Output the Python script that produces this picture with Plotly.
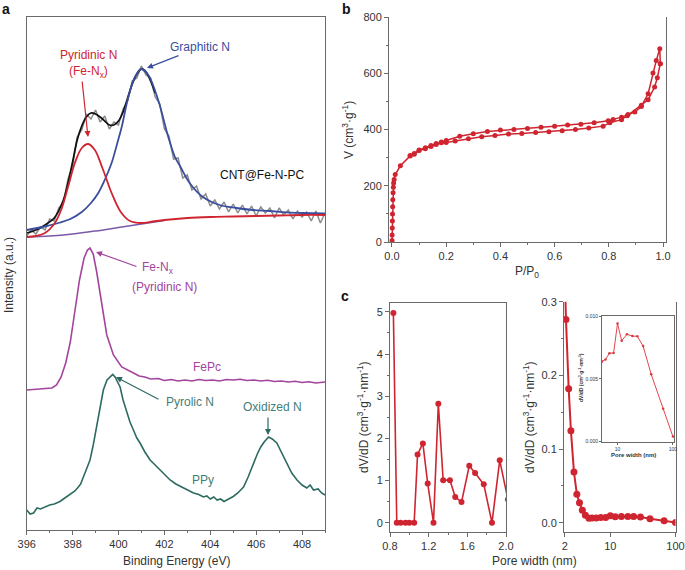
import plotly.graph_objects as go

W, H = 685, 570
def PX(x): return x / W
def PY(y): return 1 - y / H

FONT = "Liberation Sans, Arial, sans-serif"
RED = "#cf2530"
BLUE = "#3a4e9e"
PURP = "#7a5aa8"
MAG = "#a3449d"
TEAL = "#2d6b61"
TEAL_T = "#3f8077"

# ---------------- Panel a : XPS N1s ----------------
cnt_raw_E = [396.0, 396.2, 396.4, 396.6, 396.8, 397.0, 397.2, 397.4, 397.6, 397.8,
             398.0, 398.2, 398.4, 398.6, 398.8, 399.0, 399.2, 399.4, 399.6, 399.8,
             400.0, 400.2, 400.4, 400.6, 400.8, 401.0, 401.2, 401.4, 401.6, 401.8,
             402.0, 402.2, 402.4, 402.6, 402.8, 403.0, 403.2, 403.4, 403.6, 403.8,
             404.0, 404.2, 404.4, 404.6, 404.8, 405.0, 405.2, 405.4, 405.6, 405.8,
             406.0, 406.2, 406.4, 406.6, 406.8, 407.0, 407.2, 407.4, 407.6, 407.8,
             408.0, 408.2, 408.4, 408.6, 408.8, 409.0]
cnt_raw_I = [294, 300, 296, 303, 300, 311, 309, 322, 327, 351,
             364, 393, 400, 416, 411, 420, 408, 414, 401, 408,
             405, 421, 429, 449, 452, 464, 455, 452, 433, 426,
             401, 394, 371, 372, 352, 355, 340, 344, 331, 336,
             324, 330, 321, 328, 318, 326, 317, 325, 316, 324,
             314, 323, 317, 322, 312, 322, 315, 320, 311, 319,
             313, 318, 309, 319, 307, 317]

env_E = [396.0, 396.4, 396.8, 397.2, 397.6, 397.8, 398.0, 398.2, 398.4, 398.6,
         398.8, 399.0, 399.2, 399.4, 399.6, 399.8, 400.0, 400.2, 400.4, 400.6,
         400.8, 401.0, 401.2, 401.4, 401.6]
env_I = [297, 300, 305, 312, 330, 347, 368, 390, 404, 413,
         417, 416, 413, 409, 405, 405, 409, 418, 432, 446,
         456, 461, 458, 449, 437]

red_E = [396.0, 396.4, 396.8, 397.2, 397.5, 397.8, 398.1, 398.4, 398.68, 398.97,
         399.3, 399.7, 400.1, 400.5, 401.0, 401.5, 402.0, 403.0, 404.0, 405.0,
         406.0, 407.0, 408.0, 409.0]
red_I = [293, 294, 297, 306, 320, 343, 367, 382, 386, 380,
         362, 337, 318, 309, 307, 308.5, 310, 312, 313, 313.5,
         314, 314.5, 315, 315]

blue_E = [396.0, 396.7, 397.38, 397.9, 398.4, 398.8, 399.12, 399.4, 399.7, 399.95,
          400.14, 400.43, 400.72, 401.0, 401.3, 401.73, 402.17, 402.46, 402.68, 403.1,
          403.68, 404.41, 405.13, 405.86, 406.59, 407.31, 408.04, 409.0]
blue_I = [300, 303, 307, 311, 318, 327, 337, 350, 367, 387,
          403, 433, 453, 461, 455, 430, 393, 373, 364, 347,
          333, 325, 322, 320, 319, 317.7, 317, 316.5]

base_E = [396.0, 397.0, 398.0, 399.0, 400.0, 401.0, 402.0]
base_I = [293, 294, 296, 299, 302.5, 306, 309.5]

fepc_E = [396.0, 396.3, 396.6, 396.9, 397.1, 397.3, 397.5, 397.7, 397.9, 398.1,
          398.3, 398.5, 398.65, 398.76, 398.9, 399.05, 399.27, 399.49, 399.78, 400.14,
          400.57, 400.9, 401.15, 401.4, 401.73, 402.0, 402.3, 402.6, 402.9, 403.2,
          403.5, 403.8, 404.1, 404.4, 404.7, 405.0, 405.3, 405.6, 405.9, 406.2,
          406.5, 406.8, 407.1, 407.4, 407.7, 408.0, 408.3, 408.6, 409.0]
fepc_I = [140, 140.5, 141, 141.5, 142, 145, 153, 167, 188, 219,
          250, 272, 280, 282, 276, 258, 228, 195, 175, 163,
          158, 154, 153, 151, 151.5, 149.5, 150.5, 149, 150, 149,
          150.5, 149.5, 150, 149, 150.5, 150, 150.8, 149.5, 150, 149,
          149.8, 148.5, 149, 148, 148.8, 147.5, 148.2, 147, 148]

ppy_E = [396.0, 396.15, 396.3, 396.45, 396.6, 396.8, 397.0, 397.2, 397.45, 397.6,
         397.8, 397.96, 398.1, 398.25, 398.35, 398.47, 398.6, 398.76, 398.9, 399.05,
         399.2, 399.34, 399.5, 399.63, 399.75, 399.85, 399.95, 400.07, 400.2, 400.36,
         400.5, 400.65, 400.8, 400.94, 401.15, 401.38, 401.6, 401.81, 402.0, 402.25,
         402.5, 402.83, 403.05, 403.27, 403.5, 403.7, 403.85, 404.0, 404.15, 404.3,
         404.45, 404.6, 404.8, 405.0, 405.2, 405.45, 405.65, 405.88, 406.05, 406.2,
         406.35, 406.54, 406.7, 406.9, 407.1, 407.34, 407.55, 407.78, 408.0, 408.21,
         408.35, 408.5, 408.7, 408.85, 409.0]
ppy_I = [20, 16, 17, 22, 21, 23, 25, 26, 28.5, 31,
         34, 37, 39, 43, 46, 53, 60, 70, 85, 103,
         124, 140, 150, 153, 155.5, 153, 149, 143, 130, 117,
         108, 100, 92, 87, 78, 70, 65, 60, 56, 50,
         46, 42, 39, 37, 35.5, 33, 34, 31, 33, 30,
         31, 28.5, 31, 33.5, 37, 43, 53, 67, 76, 83,
         88, 93, 91, 87, 78, 67, 57, 50, 45, 42,
         45, 40, 41, 37, 35]

# ---------------- Panel b : isotherm ----------------
ads_P = [0.0003, 0.0006, 0.001, 0.0015, 0.002, 0.0025, 0.003, 0.004, 0.005, 0.006,
         0.008, 0.012, 0.031, 0.067, 0.082, 0.10, 0.123, 0.144, 0.163, 0.182,
         0.20, 0.233, 0.282, 0.331, 0.38, 0.43, 0.479, 0.53, 0.579, 0.628,
         0.677, 0.726, 0.779, 0.804, 0.847, 0.868, 0.92, 0.945, 0.969, 0.979, 0.99]
ads_V = [5, 25, 50, 75, 100, 125, 150, 175, 195, 210,
         222, 240, 271, 306, 312, 325, 332, 340, 347, 353,
         354, 359, 367, 374, 379, 384, 386, 389, 392, 396,
         400, 405, 412, 424, 435, 449, 486, 506, 551, 584, 634]
des_P = [0.99, 0.988, 0.975, 0.963, 0.945, 0.92, 0.896, 0.871, 0.847, 0.816,
         0.798, 0.746, 0.697, 0.648, 0.60, 0.55, 0.50, 0.45, 0.40, 0.352,
         0.30, 0.25, 0.20, 0.182, 0.163, 0.144, 0.123, 0.10, 0.082, 0.067]
des_V = [634, 687, 645, 601, 527, 482, 462, 453, 444, 436,
         431, 424, 419, 416, 412, 408, 404, 400, 398, 393,
         385, 376, 361, 356, 350, 343, 335, 327, 315, 308]

# ---------------- Panel c : pore size distribution ----------------
micro_w = [0.835, 0.87, 0.91, 0.96, 1.0, 1.05, 1.085, 1.14, 1.19, 1.25,
           1.30, 1.35, 1.42, 1.475, 1.54, 1.62, 1.68, 1.77, 1.855, 1.935, 2.02]
micro_v = [4.97, 0, 0, 0, 0, 0, 1.62, 1.88, 0.93, 0,
           2.82, 1.01, 1.01, 0.61, 0.49, 1.35, 1.18, 0.91, 0, 1.48, 0.55]

meso_w = [2.0, 2.09, 2.30, 2.49, 2.77, 3.07, 3.37, 3.73, 4.15, 4.71,
          5.24, 6.08, 7.14, 8.5, 10, 11.9, 14.8, 18.6, 22.8, 29, 40.6, 66.8, 100]
meso_v = [0.34, 0.276, 0.182, 0.125, 0.069, 0.0385, 0.027, 0.017, 0.010, 0.006,
          0.0064, 0.0065, 0.0070, 0.0071, 0.0094, 0.0080, 0.0085, 0.0084, 0.0084,
          0.0076, 0.0054, 0.0026, 0.0004]

inset_w = [5.24, 6.08, 7.14, 8.5, 10, 11.9, 14.8, 18.6, 22.8, 29, 40.6, 66.8, 100]
inset_v = [0.00638, 0.00654, 0.00703, 0.00705, 0.0094, 0.00803, 0.00854, 0.0084,
           0.00838, 0.0076, 0.00535, 0.0026, 0.0004]

fig = go.Figure()

# panel a traces
fig.add_trace(go.Scatter(x=cnt_raw_E, y=cnt_raw_I, mode="lines",
                         line=dict(color="#8c8c8c", width=1.5), xaxis="x", yaxis="y"))
fig.add_trace(go.Scatter(x=env_E, y=env_I, mode="lines", line_shape="spline",
                         line=dict(color="#111111", width=1.8), xaxis="x", yaxis="y"))
fig.add_trace(go.Scatter(x=base_E, y=base_I, mode="lines", line_shape="spline",
                         line=dict(color=PURP, width=1.5), xaxis="x", yaxis="y"))
fig.add_trace(go.Scatter(x=blue_E, y=blue_I, mode="lines", line_shape="spline",
                         line=dict(color=BLUE, width=1.8), xaxis="x", yaxis="y"))
fig.add_trace(go.Scatter(x=red_E, y=red_I, mode="lines", line_shape="spline",
                         line=dict(color=RED, width=1.8), xaxis="x", yaxis="y"))
fig.add_trace(go.Scatter(x=fepc_E, y=fepc_I, mode="lines",
                         line=dict(color=MAG, width=1.6), xaxis="x", yaxis="y"))
fig.add_trace(go.Scatter(x=ppy_E, y=ppy_I, mode="lines",
                         line=dict(color=TEAL, width=1.6), xaxis="x", yaxis="y"))

# panel b traces
fig.add_trace(go.Scatter(x=ads_P, y=ads_V, mode="lines+markers",
                         line=dict(color=RED, width=1.5), marker=dict(color=RED, size=5),
                         xaxis="x2", yaxis="y2"))
fig.add_trace(go.Scatter(x=des_P, y=des_V, mode="lines+markers",
                         line=dict(color=RED, width=1.5), marker=dict(color=RED, size=5),
                         xaxis="x2", yaxis="y2"))

# panel c traces
fig.add_trace(go.Scatter(x=micro_w, y=micro_v, mode="lines+markers",
                         line=dict(color=RED, width=1.6), marker=dict(color=RED, size=6),
                         xaxis="x3", yaxis="y3"))
fig.add_trace(go.Scatter(x=meso_w, y=meso_v, mode="lines+markers",
                         line=dict(color=RED, width=2), marker=dict(color=RED, size=7),
                         xaxis="x4", yaxis="y4"))
fig.add_trace(go.Scatter(x=inset_w, y=inset_v, mode="lines+markers",
                         line=dict(color="#e0474d", width=1), marker=dict(color="#d83a40", size=2.5),
                         xaxis="x5", yaxis="y5"))

LC = "#6a6a6a"
def axis(**kw):
    d = dict(showline=True, linecolor=LC, linewidth=1, ticks="outside", ticklen=4,
             tickcolor=LC, tickwidth=1, tickfont=dict(size=11, color="#333", family=FONT),
             showgrid=False, zeroline=False, automargin=False)
    d.update(kw)
    return d

minor = lambda dt, t0: dict(dtick=dt, tick0=t0, ticks="outside", ticklen=2, tickcolor=LC, showgrid=False)

layout = dict(
    template="none",
    width=W, height=H, margin=dict(l=0, r=0, t=0, b=0, pad=0),
    paper_bgcolor="white", plot_bgcolor="rgba(0,0,0,0)", showlegend=False,
    font=dict(family=FONT, color="#333"),
    xaxis=axis(domain=[PX(26.7), PX(325)], anchor="y", range=[396, 409], tick0=396, dtick=2,
               mirror=True, minor=minor(1, 396)),
    yaxis=axis(domain=[PY(530), PY(16.7)], anchor="x", range=[0, 513.3], showticklabels=False,
               ticks="", mirror=True),
    xaxis2=axis(domain=[PX(389), PX(666)], anchor="y2", range=[-0.011, 1.011], tick0=0, dtick=0.2,
                tickformat=".1f", minor=minor(0.1, 0)),
    yaxis2=axis(domain=[PY(242), PY(17)], anchor="x2", range=[0, 800], tick0=0, dtick=200,
                mirror=True, minor=minor(100, 0)),
    xaxis3=axis(domain=[PX(390), PX(506)], anchor="y3", range=[0.8, 2.0],
                tickvals=[0.8, 1.2, 1.6, 2.0], ticktext=["0.8", "1.2", "1.6", "2.0"],
                mirror=True, minor=minor(0.2, 0.8)),
    yaxis3=axis(domain=[PY(532), PY(303)], anchor="x3", range=[-0.22, 5.21], tick0=0, dtick=1,
                mirror=True, minor=minor(0.5, 0)),
    xaxis4=axis(domain=[PX(564), PX(675.5)], anchor="y4", type="log", range=[0.29, 2.0],
                tickvals=[2, 10, 100], ticktext=["2", "10", "100"]),
    yaxis4=axis(domain=[PY(532), PY(301.7)], anchor="x4", range=[-0.0126, 0.3], tick0=0, dtick=0.1,
                tickformat=".1f", mirror=True, minor=minor(0.05, 0)),
    xaxis5=axis(domain=[PX(602), PX(674)], anchor="y5", type="log", range=[0.72, 2.02],
                tickvals=[10, 100], ticktext=["10", "100"], ticklen=2,
                tickfont=dict(size=5, color="#333", family=FONT), mirror=True),
    yaxis5=axis(domain=[PY(441.5), PY(316)], anchor="x5", range=[0, 0.010],
                tickvals=[0, 0.005, 0.010], ticktext=["0.000", "0.005", "0.010"], ticklen=2,
                tickfont=dict(size=5, color="#333", family=FONT), mirror=True),
)
fig.update_layout(**layout)

ann = []
def text(x, y, s, size=12, color="#333", angle=0, bold=False):
    ann.append(dict(x=PX(x), y=PY(y), xref="paper", yref="paper", text=("<b>%s</b>" % s) if bold else s,
                    showarrow=False, textangle=angle, xanchor="center", yanchor="middle",
                    font=dict(size=size, color=color, family=FONT)))
def arrow(tx, ty, hx, hy, color):
    ann.append(dict(x=PX(hx), y=PY(hy), xref="paper", yref="paper", text="", showarrow=True,
                    ax=tx - hx, ay=ty - hy, axref="pixel", ayref="pixel",
                    arrowhead=2, arrowsize=1, arrowwidth=1.2, arrowcolor=color))

# panel labels
text(6, 9, "a", size=14, color="#111", bold=True)
text(346, 9, "b", size=14, color="#111", bold=True)
text(345, 296, "c", size=14, color="#111", bold=True)

# panel a texts
text(88, 55, "Pyridinic N", color=RED)
text(88, 72, "(Fe-N<sub>x</sub>)", color=RED)
text(200, 47, "Graphitic N", color=BLUE)
text(262, 175, "CNT@Fe-N-PC", color="#111")
text(158, 268, "Fe-N<sub>x</sub>", color=MAG)
text(164, 287, "(Pyridinic N)", color=MAG)
text(207, 367, "FePc", color=MAG)
text(190, 402, "Pyrolic N", color=TEAL_T)
text(272, 407, "Oxidized N", color=TEAL_T)
text(203, 480, "PPy", color=TEAL_T)
arrow(82, 80, 88, 137, RED)
arrow(180, 55, 147, 68, BLUE)
arrow(138, 267, 96, 252, MAG)
arrow(160, 400, 116, 377, TEAL)
arrow(268, 416, 268, 435, TEAL)

# axis titles
text(176, 561, "Binding Energy (eV)")
text(9, 275, "Intensity (a.u.)", angle=-90)
text(527, 272, "P/P<sub>0</sub>")
text(348, 130, "V (cm<sup>3</sup>·g<sup>-1</sup>)", angle=-90)
text(363, 417, "dV/dD (cm<sup>3</sup>·g<sup>-1</sup>·nm<sup>-1</sup>)", angle=-90)
text(529, 417, "dV/dD (cm<sup>3</sup>·g<sup>-1</sup>·nm<sup>-1</sup>)", angle=-90)
text(534, 561, "Pore width (nm)")
text(633, 455, "Pore width (nm)", size=6, bold=True)
text(581, 378, "dV/dD (cm<sup>3</sup>·g<sup>-1</sup>·nm<sup>-1</sup>)", size=5, angle=-90, bold=True)

fig.update_layout(annotations=ann)
fig.write_html("out.html", config={"displayModeBar": False},
               post_script="document.body.style.margin='0px';document.body.style.padding='0px';")
